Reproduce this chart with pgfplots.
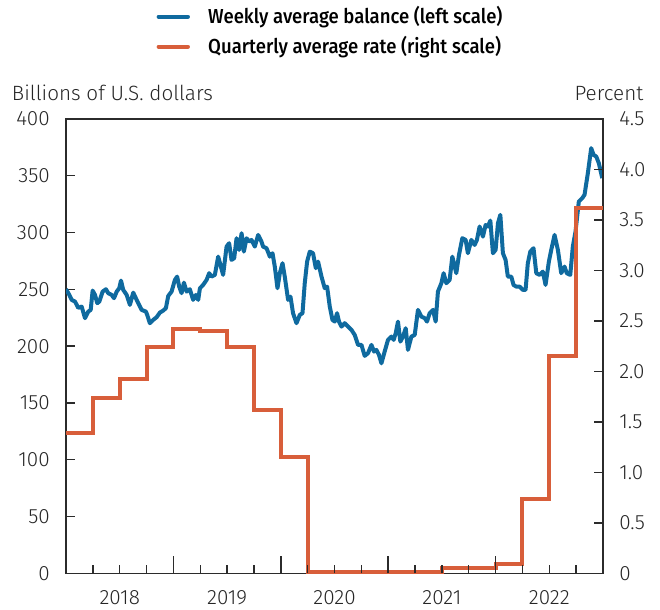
\documentclass[border=0pt]{standalone}
\usepackage{fontspec}
\setmainfont{Fira Sans}[UprightFont={* Light}, BoldFont={* Medium}]
\newfontfamily\legendfont{Fira Sans Medium}[FakeStretch=0.915]
\usepackage{pgfplots}
\pgfplotsset{compat=1.18}
\definecolor{BalBlue}{HTML}{0F6A9F}
\definecolor{RateOrange}{HTML}{D85E3A}
\definecolor{AxisGray}{HTML}{2B2B2B}

\newcommand{\tickfont}{\fontsize{15.5}{17}\selectfont}

% weekly average balance, billions of U.S. dollars
\pgfplotstableread{
x y
2018.000 250.1
2018.031 245.1
2018.053 240.7
2018.084 239.2
2018.114 233.7
2018.146 234.8
2018.177 224.6
2018.207 230.4
2018.230 231.9
2018.248 248.9
2018.270 245.1
2018.291 237.8
2018.310 239.2
2018.341 248.0
2018.372 250.1
2018.393 246.6
2018.425 245.1
2018.447 242.2
2018.472 248.0
2018.496 251.0
2018.512 257.7
2018.533 249.5
2018.565 245.1
2018.595 236.3
2018.626 247.1
2018.658 240.7
2018.704 231.9
2018.744 230.4
2018.756 227.5
2018.781 220.2
2018.812 223.1
2018.844 225.5
2018.874 229.5
2018.905 231.3
2018.930 233.4
2018.952 244.2
2018.983 248.0
2019.014 258.3
2019.035 261.2
2019.054 252.4
2019.076 246.6
2019.098 255.9
2019.123 248.0
2019.153 250.1
2019.184 240.7
2019.209 245.1
2019.231 240.7
2019.247 251.0
2019.277 253.9
2019.309 258.3
2019.333 264.2
2019.355 261.2
2019.386 262.7
2019.417 278.8
2019.442 270.0
2019.463 262.7
2019.495 287.6
2019.519 290.6
2019.541 275.9
2019.566 277.4
2019.588 295.0
2019.612 284.7
2019.635 299.4
2019.656 283.2
2019.681 295.0
2019.705 292.0
2019.727 293.5
2019.758 287.6
2019.789 297.9
2019.820 292.0
2019.835 287.6
2019.867 286.2
2019.898 278.8
2019.923 281.8
2019.944 270.0
2019.969 251.0
2019.991 264.2
2020.016 273.0
2020.037 261.2
2020.068 240.7
2020.090 243.6
2020.114 229.0
2020.146 220.2
2020.177 227.5
2020.202 229.0
2020.223 255.4
2020.245 274.4
2020.270 283.2
2020.300 281.8
2020.326 268.6
2020.347 274.4
2020.379 261.2
2020.409 251.0
2020.431 252.4
2020.456 234.8
2020.481 223.1
2020.502 221.6
2020.524 229.0
2020.542 221.6
2020.565 217.2
2020.595 220.2
2020.626 217.2
2020.658 214.3
2020.688 209.9
2020.719 201.1
2020.751 201.1
2020.781 191.4
2020.812 193.8
2020.844 201.1
2020.868 195.2
2020.890 196.7
2020.914 192.3
2020.937 184.9
2020.967 195.2
2020.998 205.5
2021.030 208.4
2021.051 205.5
2021.070 211.4
2021.091 221.6
2021.113 204.0
2021.138 208.4
2021.163 215.8
2021.184 196.7
2021.216 208.4
2021.247 209.9
2021.277 231.9
2021.309 226.0
2021.340 224.6
2021.361 221.6
2021.386 229.0
2021.417 231.9
2021.442 221.6
2021.463 248.0
2021.495 255.4
2021.516 264.2
2021.541 255.4
2021.572 258.3
2021.597 278.8
2021.634 264.2
2021.659 280.3
2021.690 295.0
2021.721 293.5
2021.742 281.8
2021.774 293.5
2021.805 289.1
2021.826 293.5
2021.851 305.3
2021.882 296.4
2021.907 306.7
2021.928 305.3
2021.951 310.5
2021.975 281.8
2022.000 284.7
2022.022 308.2
2022.044 315.6
2022.068 281.8
2022.093 275.9
2022.114 261.2
2022.146 261.2
2022.167 253.9
2022.192 252.4
2022.223 252.4
2022.254 249.5
2022.279 249.5
2022.300 273.0
2022.323 283.2
2022.353 286.2
2022.379 264.2
2022.409 262.7
2022.440 265.6
2022.465 253.9
2022.496 274.4
2022.518 284.7
2022.549 297.9
2022.580 284.7
2022.611 264.2
2022.642 270.0
2022.663 264.2
2022.695 262.7
2022.719 287.6
2022.744 300.8
2022.775 327.3
2022.807 330.3
2022.828 333.2
2022.859 352.3
2022.890 374.3
2022.912 368.4
2022.937 366.9
2022.961 361.1
2022.993 347.9
}\balance

% quarterly average rate, percent
\pgfplotstableread{
x y
2018.00 1.39
2018.25 1.74
2018.50 1.92
2018.75 2.24
2019.00 2.42
2019.25 2.40
2019.50 2.24
2019.75 1.62
2020.00 1.15
2020.25 0.01
2021.50 0.05
2022.00 0.09
2022.25 0.74
2022.50 2.15
2022.75 3.62
2023.00 3.62
}\rate

\pgfplotsset{
  frame/.style={
    scale only axis, width=402.75pt, height=340.8pt,
    xmin=2018, xmax=2023,
    tick align=inside,
    axis line style={AxisGray, line width=1.2pt},
    tick style={AxisGray, line width=1.1pt},
    tick label style={font=\tickfont, text=black!85},
    /pgf/number format/assume math mode=true,
  },
}

\begin{document}
\begin{tikzpicture}
\useasboundingbox (-49.5pt,-27.5pt) rectangle (445.5pt,430pt);

% left scale: balance
\begin{axis}[frame,
  ymin=0, ymax=400, ytick={0,50,...,400}, ytick pos=left,
  major tick length=7pt,
  yticklabel style={anchor=east, inner sep=0pt, xshift=-12pt},
  xtick={2018.5,2019.5,2020.5,2021.5,2022.5},
  xticklabels={2018,2019,2020,2021,2022},
  xtick style={draw=none}, xtick pos=bottom,
  xticklabel style={anchor=north, inner sep=0pt, yshift=-13pt},
]
\addplot[BalBlue, line width=3pt, line join=round] table {\balance};
\end{axis}

% right scale: rate
\begin{axis}[frame,
  ymin=0, ymax=4.5, axis y line*=right, axis x line=none,
  ytick={0,0.5,1,1.5,2,2.5,3,3.5,4,4.5},
  yticklabels={0,0.5,1.0,1.5,2.0,2.5,3.0,3.5,4.0,4.5},
  major tick length=7pt,
  yticklabel style={anchor=west, inner sep=0pt, xshift=12pt},
  legend cell align=left,
  legend style={draw=none, fill=none, at={(0.1688,1.2412)}, anchor=north west,
    inner sep=0pt, outer sep=0pt, row sep=7.5pt, column sep=13.7pt,
    font=\legendfont\fontsize{15.2}{17}\selectfont,
    nodes={inner sep=0pt, text height=11pt, text depth=4pt}},
  legend image code/.code={\draw[#1, line cap=round] (1.5pt,2pt) -- (23.5pt,2pt);},
]
\addlegendimage{BalBlue, line width=3pt}
\addlegendentry{Weekly average balance (left scale)}
\addplot[RateOrange, line width=3pt, const plot] table {\rate};
\addlegendentry{Quarterly average rate (right scale)}
\end{axis}

% quarter and year ticks along the bottom
\begin{axis}[frame,
  ymin=0, ymax=1, hide y axis, axis line style={draw=none},
  xtick pos=bottom,
  xtick={2019,2020,2021,2022}, xticklabels={},
  minor xtick={2018.25,2018.5,2018.75,2019.25,2019.5,2019.75,2020.25,2020.5,2020.75,2021.25,2021.5,2021.75,2022.25,2022.5,2022.75},
  major tick length=12.75pt, minor tick length=6.25pt,
]
\end{axis}

% scale titles above the axis box (box is 402.75pt x 340.8pt from the origin)
\node[anchor=base west, inner sep=0pt, font=\fontsize{15.5}{17}\selectfont, text=black!85]
  at (-40.7pt,354.45pt) {Billions of U.S. dollars};
\node[anchor=base east, inner sep=0pt, font=\fontsize{15.5}{17}\selectfont, text=black!85]
  at (433.25pt,354.45pt) {Percent};
\end{tikzpicture}
\end{document}
